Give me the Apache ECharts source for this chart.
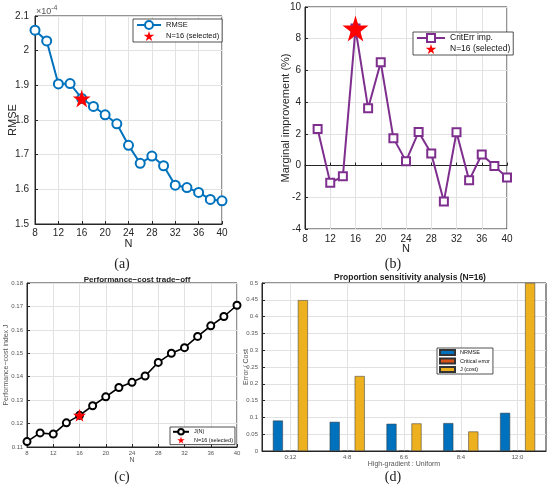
<!DOCTYPE html>
<html>
<head>
<meta charset="utf-8">
<script src="https://cdn.jsdelivr.net/npm/echarts@6/dist/echarts.min.js"></script>
<style>
html, body { margin: 0; padding: 0; background: #fff; }
#main { width: 550px; height: 487px; }
</style>
</head>
<body>
<div id="main"></div>
<script>
// (a) RMSE vs N (values in units of 1e-4)
var nA = [8, 10, 12, 14, 16, 18, 20, 22, 24, 26, 28, 30, 32, 34, 36, 38, 40];
var rmse = [2.059, 2.028, 1.904, 1.905, 1.862, 1.839, 1.815, 1.789, 1.727, 1.675, 1.696, 1.668, 1.612, 1.605, 1.591, 1.571, 1.567];

// (b) marginal improvement of critical error (%)
var nB = [10, 12, 14, 16, 18, 20, 22, 24, 26, 28, 30, 32, 34, 36, 38, 40];
var critImp = [2.31, -1.09, -0.68, 8.64, 3.61, 6.51, 1.73, 0.28, 2.12, 0.76, -2.26, 2.10, -0.93, 0.70, -0.03, -0.76];

// (c) performance-cost index J
var jIndex = [0.1123, 0.1160, 0.1155, 0.1203, 0.1235, 0.1276, 0.1314, 0.1354, 0.1376, 0.1403, 0.1461, 0.1500, 0.1524, 0.1572, 0.1617, 0.1657, 0.1705];

// (d) proportion sensitivity
var ratios = ['0:12', '4:8', '6:6', '8:4', '12:0'];
var nrmse = [0.0906, 0.0867, 0.081, 0.083, 0.1135];
var critErr = [0, 0, 0, 0, 0];
var jCost = [0.449, 0.223, 0.082, 0.058, 0.5];

var selN = 16;

function pairs(xs, ys) {
  return xs.map(function (x, i) { return [x, ys[i]]; });
}
function pick(xs, ys) {
  return [[selN, ys[xs.indexOf(selN)]]];
}

var STAR = 'path://M50,0 L61,35 L98,35 L68,57 L79,91 L50,70 L21,91 L32,57 L2,35 L39,35 Z';
var FONT = '"Liberation Sans", Arial, sans-serif';
var AX = '#262626';
var GRIDC = '#e2e2e2';

function xN(grid, fs, margin, gap, col) {
  return {
    type: 'value', gridIndex: grid, min: 8, max: 40, interval: 4,
    name: 'N', nameLocation: 'middle', nameGap: gap, nameMoveOverlap: false,
    nameTextStyle: { fontSize: fs + 1, color: col, fontFamily: FONT },
    axisLine: { lineStyle: { color: AX } },
    axisTick: { inside: true, length: 3, lineStyle: { color: AX } },
    axisLabel: { fontSize: fs, color: col, margin: margin, fontFamily: FONT },
    splitLine: { show: true, lineStyle: { color: GRIDC } }
  };
}
function yV(grid, min, max, iv, name, fs, margin, gap, col) {
  return {
    type: 'value', gridIndex: grid, min: min, max: max, interval: iv,
    name: name, nameLocation: 'middle', nameGap: gap, nameMoveOverlap: false,
    nameTextStyle: { fontSize: fs + 1, color: col, fontFamily: FONT },
    axisLine: { show: true, lineStyle: { color: AX } },
    axisTick: { show: true, inside: true, length: 3, lineStyle: { color: AX } },
    axisLabel: { fontSize: fs, color: col, margin: margin, fontFamily: FONT },
    splitLine: { show: true, lineStyle: { color: GRIDC } }
  };
}
function legendBox(o) {
  var base = {
    orient: 'vertical', backgroundColor: '#fff', borderColor: AX, borderWidth: 0.8,
    borderRadius: 0, selectedMode: false,
    formatter: function (n) { return n.replace(/\s*#.*$/, ''); },
    textStyle: { color: '#111', fontFamily: FONT }
  };
  for (var k in o) base[k] = o[k];
  return base;
}

var option = {
  animation: false,
  backgroundColor: '#fff',
  title: [
    { text: 'Performance\u2212cost trade\u2212off', left: 132, top: 271, textAlign: 'center',
      textStyle: { fontSize: 8, fontWeight: 'bold', color: '#222', fontFamily: FONT } },
    { text: 'Proportion sensitivity analysis (N=16)', left: 405, top: 268, textAlign: 'center',
      textStyle: { fontSize: 8.5, fontWeight: 'bold', color: '#222', fontFamily: FONT } }
  ],
  grid: [
    { left: 35, top: 16, width: 187, height: 208, show: true, borderColor: AX, borderWidth: 1 },
    { left: 305, top: 7, width: 202, height: 222, show: true, borderColor: AX, borderWidth: 1 },
    { left: 27, top: 283, width: 210, height: 164, show: true, borderColor: AX, borderWidth: 1 },
    { left: 262, top: 283, width: 284, height: 168, show: true, borderColor: AX, borderWidth: 1 }
  ],
  xAxis: [
    xN(0, 10, 4, 14, AX),
    xN(1, 10, 5, 14, AX),
    xN(2, 6, 3, 10, '#555'),
    {
      type: 'category', gridIndex: 3, data: ratios,
      name: 'High-gradient : Uniform', nameLocation: 'middle', nameGap: 10, nameMoveOverlap: false,
      nameTextStyle: { fontSize: 7, color: '#555', fontFamily: FONT },
      axisLine: { lineStyle: { color: AX } },
      axisTick: { inside: true, length: 3, alignWithLabel: true, lineStyle: { color: AX } },
      axisLabel: { fontSize: 6, color: '#555', margin: 3, fontFamily: FONT },
      splitLine: { show: true, alignWithLabel: true, lineStyle: { color: GRIDC } }
    }
  ],
  yAxis: [
    yV(0, 1.5, 2.1, 0.1, 'RMSE', 10, 6, 17, AX),
    yV(1, -4, 10, 2, 'Marginal improvement (%)', 10, 4, 14, AX),
    yV(2, 0.11, 0.18, 0.01, 'Performance\u2212cost index J', 6, 4, 17, '#555'),
    yV(3, 0, 0.5, 0.05, 'Error / Cost', 6, 4, 12.5, '#555')
  ],
  legend: [
    legendBox({ left: 133, top: 19, itemWidth: 24, itemHeight: 10, itemGap: 1, padding: [1, 3, 1, 3],
      textStyle: { fontSize: 7.5, color: '#111', fontFamily: FONT },
      data: [{ name: 'RMSE #a' }, { name: 'N=16 (selected) #a', icon: STAR }] }),
    legendBox({ left: 413, top: 32, itemWidth: 28, itemHeight: 10, itemGap: 1, padding: [1, 3, 1, 3],
      textStyle: { fontSize: 8.5, color: '#111', fontFamily: FONT },
      data: [{ name: 'CritErr imp. #b' }, { name: 'N=16 (selected) #b', icon: STAR }] }),
    legendBox({ left: 170, top: 427, itemWidth: 16, itemHeight: 7, itemGap: 1, padding: [1, 2, 1, 2],
      textStyle: { fontSize: 5.5, color: '#111', fontFamily: FONT },
      data: [{ name: 'J(N) #c' }, { name: 'N=16 (selected) #c', icon: STAR }] }),
    legendBox({ left: 437, top: 348, itemWidth: 15, itemHeight: 5, itemGap: 1.5, padding: [1, 3, 1, 2],
      textStyle: { fontSize: 5.5, color: '#111', fontFamily: FONT },
      data: [{ name: 'NRMSE #d', icon: 'rect' }, { name: 'Critical error #d', icon: 'rect' }, { name: 'J (cost) #d', icon: 'rect' }] })
  ],
  series: [
    { name: 'RMSE #a', type: 'line', xAxisIndex: 0, yAxisIndex: 0, data: pairs(nA, rmse), z: 2,
      color: '#0072BD', lineStyle: { width: 2 }, symbol: 'emptyCircle', symbolSize: 9,
      itemStyle: { borderWidth: 2 } },
    { name: 'N=16 (selected) #a', type: 'scatter', xAxisIndex: 0, yAxisIndex: 0, data: pick(nA, rmse),
      color: '#FF0000', symbol: STAR, symbolSize: 18, z: 10, itemStyle: { opacity: 1 } },

    { name: 'CritErr imp. #b', type: 'line', xAxisIndex: 1, yAxisIndex: 1, data: pairs(nB, critImp), z: 2,
      color: '#7E2F8E', lineStyle: { width: 2 }, symbol: 'emptyRect', symbolSize: 8,
      itemStyle: { borderWidth: 2 } },
    { name: 'N=16 (selected) #b', type: 'scatter', xAxisIndex: 1, yAxisIndex: 1, data: pick(nB, critImp),
      color: '#FF0000', symbol: STAR, symbolSize: 26, z: 10, itemStyle: { opacity: 1 } },

    { name: 'J(N) #c', type: 'line', xAxisIndex: 2, yAxisIndex: 2, data: pairs(nA, jIndex), z: 2,
      color: '#000', lineStyle: { width: 1.6 }, symbol: 'emptyCircle', symbolSize: 7,
      itemStyle: { borderWidth: 1.6 } },
    { name: 'N=16 (selected) #c', type: 'scatter', xAxisIndex: 2, yAxisIndex: 2, data: pick(nA, jIndex),
      color: '#FF0000', symbol: STAR, symbolSize: 13, z: 10, itemStyle: { opacity: 1 } },

    { name: 'NRMSE #d', type: 'bar', xAxisIndex: 3, yAxisIndex: 3, data: nrmse,
      barWidth: 10, barGap: '25%', color: '#0072BD', itemStyle: { borderColor: '#333', borderWidth: 0.5 } },
    { name: 'Critical error #d', type: 'bar', xAxisIndex: 3, yAxisIndex: 3, data: critErr,
      barWidth: 10, barGap: '25%', color: '#D95319', itemStyle: { borderColor: '#333', borderWidth: 0.5 } },
    { name: 'J (cost) #d', type: 'bar', xAxisIndex: 3, yAxisIndex: 3, data: jCost,
      barWidth: 10, barGap: '25%', color: '#EDB120', itemStyle: { borderColor: '#333', borderWidth: 0.5 } }
  ],
  graphic: [
    { type: 'text', left: 36, top: 5, style: {
      text: '{m|\u00d710}{e|-4}', fill: AX,
      rich: { m: { fontSize: 9, fontFamily: FONT, fill: '#555' }, e: { fontSize: 7, fontFamily: FONT, fill: '#555', verticalAlign: 'top', padding: [0, 0, 6, 0] } } } },
    { type: 'text', x: 122, y: 264, style: { text: '(a)', fontSize: 14, fontFamily: '"Liberation Serif", serif', fill: '#222', align: 'center', verticalAlign: 'middle' } },
    { type: 'text', x: 393, y: 264, style: { text: '(b)', fontSize: 14, fontFamily: '"Liberation Serif", serif', fill: '#222', align: 'center', verticalAlign: 'middle' } },
    { type: 'text', x: 122, y: 477, style: { text: '(c)', fontSize: 14, fontFamily: '"Liberation Serif", serif', fill: '#222', align: 'center', verticalAlign: 'middle' } },
    { type: 'text', x: 393, y: 477, style: { text: '(d)', fontSize: 14, fontFamily: '"Liberation Serif", serif', fill: '#222', align: 'center', verticalAlign: 'middle' } }
  ]
};

var myChart = echarts.init(document.getElementById('main'));
myChart.setOption(option);
</script>
</body>
</html>
